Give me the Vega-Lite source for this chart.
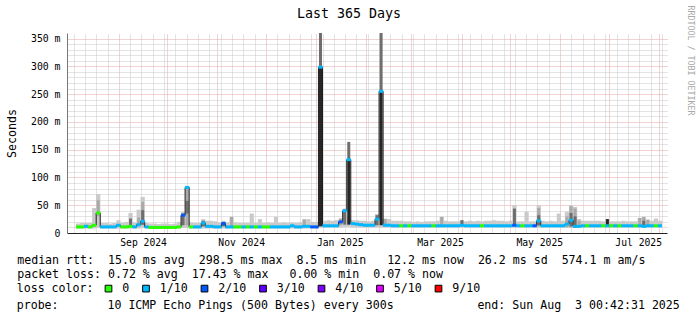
{
"$schema": "https://vega.github.io/schema/vega-lite/v6.json",
"width": 600, "height": 200,
"autosize": {"type": "none"},
"padding": {"left": 67, "top": 33, "right": 30, "bottom": 82},
"background": "#ffffff",
"config": {"view": {"stroke": null}, "font": "DejaVu Sans Mono"},
"title": {"text": "probe:\u00a0\u00a0\u00a0\u00a0\u00a0\u00a0\u00a010 ICMP Echo Pings (500 Bytes) every 300s\u00a0\u00a0\u00a0\u00a0\u00a0\u00a0\u00a0\u00a0\u00a0\u00a0\u00a0\u00a0end: Sun Aug\u00a0\u00a03 00:42:31 2025", "orient": "bottom", "anchor": "start", "frame": "group", "align": "left", "dx": -50.3, "offset": 14, "baseline": "alphabetic", "limit": 1000, "font": "DejaVu Sans Mono", "fontSize": 11.6, "fontWeight": "normal", "color": "#000000"},
"datasets": {
"main": [
{"t":"2024-08-06T18:00","m":11,"l":"0","lo":8,"hi":17},
{"t":"2024-08-09T06:00","m":11,"l":"0","lo":8,"hi":18},
{"t":"2024-08-11T18:00","m":12,"l":"1/10","lo":8,"hi":18},
{"t":"2024-08-14T06:00","m":11,"l":"0","lo":8,"hi":18},
{"t":"2024-08-16T18:00","m":14,"l":"0","lo":8,"hi":45},
{"t":"2024-08-19T06:00","m":36,"l":"0","lo":9,"hi":70},
{"t":"2024-08-21T18:00","m":11,"l":"1/10","lo":8,"hi":18},
{"t":"2024-08-24T06:00","m":11,"l":"1/10","lo":8,"hi":18},
{"t":"2024-08-26T18:00","m":11,"l":"1/10","lo":8,"hi":17},
{"t":"2024-08-29T06:00","m":11,"l":"1/10","lo":8,"hi":18},
{"t":"2024-08-31T18:00","m":14,"l":"1/10","lo":8,"hi":23},
{"t":"2024-09-03T06:00","m":11,"l":"0","lo":8,"hi":18},
{"t":"2024-09-05T18:00","m":11,"l":"0","lo":8,"hi":20},
{"t":"2024-09-08T06:00","m":12,"l":"0","lo":8,"hi":36},
{"t":"2024-09-10T18:00","m":11,"l":"1/10","lo":8,"hi":19},
{"t":"2024-09-13T06:00","m":15,"l":"1/10","lo":8,"hi":42},
{"t":"2024-09-15T18:00","m":21,"l":"1/10","lo":9,"hi":65},
{"t":"2024-09-18T06:00","m":11,"l":"1/10","lo":8,"hi":18},
{"t":"2024-09-20T18:00","m":10,"l":"0","lo":8,"hi":17},
{"t":"2024-09-23T06:00","m":10,"l":"0","lo":8,"hi":17},
{"t":"2024-09-25T18:00","m":10,"l":"0","lo":8,"hi":16},
{"t":"2024-09-28T06:00","m":10,"l":"0","lo":8,"hi":17},
{"t":"2024-09-30T18:00","m":10,"l":"0","lo":8,"hi":17},
{"t":"2024-10-03T06:00","m":10,"l":"0","lo":8,"hi":16},
{"t":"2024-10-05T18:00","m":10,"l":"0","lo":8,"hi":17},
{"t":"2024-10-08T06:00","m":11,"l":"0","lo":8,"hi":20},
{"t":"2024-10-10T18:00","m":32,"l":"2/10","lo":9,"hi":38},
{"t":"2024-10-13T06:00","m":82,"l":"1/10","lo":9,"hi":84},
{"t":"2024-10-15T18:00","m":11,"l":"0","lo":8,"hi":19},
{"t":"2024-10-18T06:00","m":11,"l":"1/10","lo":8,"hi":18},
{"t":"2024-10-20T18:00","m":11,"l":"1/10","lo":8,"hi":18},
{"t":"2024-10-23T06:00","m":18,"l":"1/10","lo":8,"hi":25},
{"t":"2024-10-25T18:00","m":12,"l":"1/10","lo":8,"hi":22},
{"t":"2024-10-28T06:00","m":12,"l":"1/10","lo":8,"hi":22},
{"t":"2024-10-30T18:00","m":11,"l":"1/10","lo":8,"hi":21},
{"t":"2024-11-02T06:00","m":11,"l":"1/10","lo":8,"hi":19},
{"t":"2024-11-04T18:00","m":17,"l":"2/10","lo":8,"hi":22},
{"t":"2024-11-07T06:00","m":11,"l":"1/10","lo":8,"hi":19},
{"t":"2024-11-09T18:00","m":11,"l":"1/10","lo":8,"hi":29},
{"t":"2024-11-12T06:00","m":11,"l":"0","lo":8,"hi":19},
{"t":"2024-11-14T18:00","m":11,"l":"0","lo":8,"hi":18},
{"t":"2024-11-17T06:00","m":11,"l":"1/10","lo":8,"hi":18},
{"t":"2024-11-19T18:00","m":11,"l":"0","lo":8,"hi":18},
{"t":"2024-11-22T06:00","m":11,"l":"1/10","lo":8,"hi":35},
{"t":"2024-11-24T18:00","m":11,"l":"0","lo":8,"hi":18},
{"t":"2024-11-27T06:00","m":11,"l":"1/10","lo":8,"hi":25},
{"t":"2024-11-29T18:00","m":11,"l":"0","lo":8,"hi":18},
{"t":"2024-12-02T06:00","m":11,"l":"0","lo":8,"hi":19},
{"t":"2024-12-04T18:00","m":11,"l":"1/10","lo":8,"hi":18},
{"t":"2024-12-07T06:00","m":11,"l":"1/10","lo":8,"hi":29},
{"t":"2024-12-09T18:00","m":11,"l":"1/10","lo":8,"hi":18},
{"t":"2024-12-12T06:00","m":11,"l":"1/10","lo":8,"hi":19},
{"t":"2024-12-14T18:00","m":11,"l":"1/10","lo":8,"hi":18},
{"t":"2024-12-17T06:00","m":13,"l":"1/10","lo":8,"hi":19},
{"t":"2024-12-19T18:00","m":11,"l":"1/10","lo":8,"hi":18},
{"t":"2024-12-22T06:00","m":11,"l":"1/10","lo":8,"hi":19},
{"t":"2024-12-24T18:00","m":12,"l":"1/10","lo":8,"hi":25},
{"t":"2024-12-27T06:00","m":12,"l":"1/10","lo":8,"hi":25},
{"t":"2024-12-29T18:00","m":11,"l":"2/10","lo":8,"hi":20},
{"t":"2025-01-01T06:00","m":11,"l":"2/10","lo":8,"hi":20},
{"t":"2025-01-03T18:00","m":298.5,"l":"1/10","lo":10,"hi":25},
{"t":"2025-01-06T06:00","m":13,"l":"1/10","lo":10,"hi":22},
{"t":"2025-01-08T18:00","m":13,"l":"1/10","lo":10,"hi":23},
{"t":"2025-01-11T06:00","m":13,"l":"1/10","lo":10,"hi":22},
{"t":"2025-01-13T18:00","m":13,"l":"1/10","lo":10,"hi":23},
{"t":"2025-01-16T06:00","m":20,"l":"2/10","lo":10,"hi":26},
{"t":"2025-01-18T18:00","m":40,"l":"1/10","lo":11,"hi":44},
{"t":"2025-01-21T06:00","m":132,"l":"1/10","lo":11,"hi":30},
{"t":"2025-01-23T18:00","m":17,"l":"1/10","lo":10,"hi":23},
{"t":"2025-01-26T06:00","m":16,"l":"1/10","lo":10,"hi":23},
{"t":"2025-01-28T18:00","m":15,"l":"1/10","lo":10,"hi":22},
{"t":"2025-01-31T06:00","m":14,"l":"1/10","lo":10,"hi":22},
{"t":"2025-02-02T18:00","m":14,"l":"1/10","lo":10,"hi":21},
{"t":"2025-02-05T06:00","m":14,"l":"1/10","lo":10,"hi":22},
{"t":"2025-02-07T18:00","m":25,"l":"1/10","lo":10,"hi":34},
{"t":"2025-02-10T06:00","m":255,"l":"1/10","lo":10,"hi":25},
{"t":"2025-02-12T18:00","m":14,"l":"1/10","lo":10,"hi":26},
{"t":"2025-02-15T06:00","m":14,"l":"1/10","lo":10,"hi":25},
{"t":"2025-02-17T18:00","m":13,"l":"1/10","lo":10,"hi":22},
{"t":"2025-02-20T06:00","m":13,"l":"1/10","lo":10,"hi":22},
{"t":"2025-02-22T18:00","m":13,"l":"0","lo":10,"hi":22},
{"t":"2025-02-25T06:00","m":13,"l":"1/10","lo":10,"hi":21},
{"t":"2025-02-27T18:00","m":13,"l":"0","lo":10,"hi":21},
{"t":"2025-03-02T06:00","m":13,"l":"1/10","lo":10,"hi":20},
{"t":"2025-03-04T18:00","m":13,"l":"1/10","lo":10,"hi":21},
{"t":"2025-03-07T06:00","m":13,"l":"1/10","lo":10,"hi":20},
{"t":"2025-03-09T18:00","m":13,"l":"1/10","lo":10,"hi":21},
{"t":"2025-03-12T06:00","m":13,"l":"1/10","lo":10,"hi":21},
{"t":"2025-03-14T18:00","m":13,"l":"0","lo":10,"hi":21},
{"t":"2025-03-17T06:00","m":13,"l":"1/10","lo":10,"hi":22},
{"t":"2025-03-19T18:00","m":13,"l":"1/10","lo":10,"hi":29},
{"t":"2025-03-22T06:00","m":13,"l":"1/10","lo":10,"hi":22},
{"t":"2025-03-24T18:00","m":13,"l":"1/10","lo":10,"hi":21},
{"t":"2025-03-27T06:00","m":13,"l":"1/10","lo":10,"hi":21},
{"t":"2025-03-29T18:00","m":13,"l":"1/10","lo":10,"hi":21},
{"t":"2025-04-01T06:00","m":14,"l":"1/10","lo":10,"hi":23},
{"t":"2025-04-03T18:00","m":13,"l":"1/10","lo":10,"hi":21},
{"t":"2025-04-06T06:00","m":13,"l":"1/10","lo":10,"hi":22},
{"t":"2025-04-08T18:00","m":13,"l":"1/10","lo":10,"hi":21},
{"t":"2025-04-11T06:00","m":13,"l":"1/10","lo":10,"hi":22},
{"t":"2025-04-13T18:00","m":13,"l":"0","lo":10,"hi":21},
{"t":"2025-04-16T06:00","m":13,"l":"1/10","lo":10,"hi":22},
{"t":"2025-04-18T18:00","m":13,"l":"1/10","lo":10,"hi":22},
{"t":"2025-04-21T06:00","m":13,"l":"1/10","lo":10,"hi":23},
{"t":"2025-04-23T18:00","m":13,"l":"1/10","lo":10,"hi":22},
{"t":"2025-04-26T06:00","m":13,"l":"1/10","lo":10,"hi":22},
{"t":"2025-04-28T18:00","m":13,"l":"1/10","lo":10,"hi":21},
{"t":"2025-05-01T06:00","m":13,"l":"1/10","lo":10,"hi":22},
{"t":"2025-05-03T18:00","m":14,"l":"2/10","lo":10,"hi":50},
{"t":"2025-05-06T06:00","m":13,"l":"1/10","lo":10,"hi":21},
{"t":"2025-05-08T18:00","m":13,"l":"0","lo":10,"hi":21},
{"t":"2025-05-11T06:00","m":13,"l":"1/10","lo":10,"hi":38},
{"t":"2025-05-13T18:00","m":13,"l":"1/10","lo":10,"hi":21},
{"t":"2025-05-16T06:00","m":13,"l":"2/10","lo":10,"hi":21},
{"t":"2025-05-18T18:00","m":22,"l":"1/10","lo":10,"hi":50},
{"t":"2025-05-21T06:00","m":13,"l":"1/10","lo":10,"hi":22},
{"t":"2025-05-23T18:00","m":13,"l":"1/10","lo":10,"hi":21},
{"t":"2025-05-26T06:00","m":13,"l":"1/10","lo":10,"hi":22},
{"t":"2025-05-28T18:00","m":13,"l":"1/10","lo":10,"hi":21},
{"t":"2025-05-31T06:00","m":13,"l":"1/10","lo":10,"hi":35},
{"t":"2025-06-02T18:00","m":13,"l":"1/10","lo":10,"hi":22},
{"t":"2025-06-05T06:00","m":16,"l":"1/10","lo":10,"hi":38},
{"t":"2025-06-07T18:00","m":23,"l":"1/10","lo":10,"hi":50},
{"t":"2025-06-10T06:00","m":12,"l":"1/10","lo":9,"hi":47},
{"t":"2025-06-12T18:00","m":12,"l":"1/10","lo":10,"hi":25},
{"t":"2025-06-15T06:00","m":13,"l":"1/10","lo":10,"hi":22},
{"t":"2025-06-17T18:00","m":13,"l":"0","lo":10,"hi":22},
{"t":"2025-06-20T06:00","m":13,"l":"1/10","lo":10,"hi":22},
{"t":"2025-06-22T18:00","m":13,"l":"1/10","lo":10,"hi":22},
{"t":"2025-06-25T06:00","m":13,"l":"1/10","lo":10,"hi":22},
{"t":"2025-06-27T18:00","m":13,"l":"0","lo":10,"hi":21},
{"t":"2025-06-30T06:00","m":13,"l":"1/10","lo":10,"hi":25},
{"t":"2025-07-02T18:00","m":13,"l":"0","lo":10,"hi":21},
{"t":"2025-07-05T06:00","m":13,"l":"1/10","lo":10,"hi":21},
{"t":"2025-07-07T18:00","m":13,"l":"0","lo":10,"hi":21},
{"t":"2025-07-10T06:00","m":13,"l":"1/10","lo":10,"hi":22},
{"t":"2025-07-12T18:00","m":13,"l":"1/10","lo":10,"hi":21},
{"t":"2025-07-15T06:00","m":13,"l":"1/10","lo":10,"hi":21},
{"t":"2025-07-17T18:00","m":13,"l":"0","lo":10,"hi":21},
{"t":"2025-07-20T06:00","m":13,"l":"1/10","lo":10,"hi":27},
{"t":"2025-07-22T18:00","m":12,"l":"1/10","lo":10,"hi":29},
{"t":"2025-07-25T06:00","m":13,"l":"1/10","lo":10,"hi":24},
{"t":"2025-07-27T18:00","m":13,"l":"1/10","lo":10,"hi":22},
{"t":"2025-07-30T06:00","m":13,"l":"0","lo":10,"hi":26},
{"t":"2025-08-01T18:00","m":13,"l":"1/10","lo":10,"hi":22}
],
"dark": [
{"t":"2024-08-19T06:00","lo":30,"hi":59,"k":1},
{"t":"2024-09-08T06:00","lo":12,"hi":26,"k":2},
{"t":"2024-09-13T06:00","lo":12,"hi":28,"k":1},
{"t":"2024-09-15T18:00","lo":14,"hi":56,"k":1},
{"t":"2024-09-15T18:00","lo":15,"hi":41,"k":2},
{"t":"2024-10-10T18:00","lo":14,"hi":35,"k":2},
{"t":"2024-10-13T06:00","lo":14,"hi":80,"k":1},
{"t":"2024-10-13T06:00","lo":35,"hi":58,"k":2},
{"t":"2024-10-23T06:00","lo":12,"hi":22,"k":2},
{"t":"2024-11-04T18:00","lo":12,"hi":20,"k":2},
{"t":"2024-11-09T18:00","lo":12,"hi":29,"k":1},
{"t":"2024-12-24T18:00","lo":12,"hi":24,"k":1},
{"t":"2025-01-03T18:00","lo":12,"hi":298.5,"k":3},
{"t":"2025-01-03T18:00","lo":298.5,"hi":360,"k":2},
{"t":"2025-01-16T06:00","lo":14,"hi":26,"k":1},
{"t":"2025-01-18T18:00","lo":15,"hi":42,"k":2},
{"t":"2025-01-21T06:00","lo":15,"hi":132,"k":3},
{"t":"2025-01-21T06:00","lo":132,"hi":164,"k":2},
{"t":"2025-02-07T18:00","lo":14,"hi":32,"k":2},
{"t":"2025-02-10T06:00","lo":14,"hi":255,"k":3},
{"t":"2025-02-10T06:00","lo":255,"hi":360,"k":2},
{"t":"2025-02-12T18:00","lo":12,"hi":25,"k":1},
{"t":"2025-03-19T18:00","lo":12,"hi":29,"k":1},
{"t":"2025-04-01T06:00","lo":12,"hi":23,"k":2},
{"t":"2025-05-03T18:00","lo":12,"hi":44,"k":2},
{"t":"2025-05-18T18:00","lo":12,"hi":45,"k":1},
{"t":"2025-05-18T18:00","lo":14,"hi":32,"k":2},
{"t":"2025-06-05T06:00","lo":10,"hi":30,"k":1},
{"t":"2025-06-07T18:00","lo":10,"hi":48,"k":1},
{"t":"2025-06-07T18:00","lo":12,"hi":36,"k":2},
{"t":"2025-06-10T06:00","lo":9,"hi":44,"k":1},
{"t":"2025-06-10T06:00","lo":10,"hi":30,"k":2},
{"t":"2025-06-12T18:00","lo":10,"hi":22,"k":1},
{"t":"2025-06-30T06:00","lo":12,"hi":25,"k":3},
{"t":"2025-07-20T06:00","lo":11,"hi":27,"k":1},
{"t":"2025-07-22T18:00","lo":10,"hi":29,"k":1},
{"t":"2025-07-22T18:00","lo":11,"hi":22,"k":2},
{"t":"2025-07-25T06:00","lo":11,"hi":24,"k":1}
]
},
"layer": [
{
"data": {"name": "main"},
"mark": {"type": "bar", "width": 4.2, "color": "#cacaca"},
"encoding": {
"x": {"field": "t", "type": "temporal", "scale": {"domain": [{"year":2024,"month":8,"date":3,"hours":0,"minutes":42},{"year":2025,"month":8,"date":3,"hours":0,"minutes":42}], "nice": false},
"axis": {"orient": "top", "values": [{"year":2024,"month":8,"date":4},{"year":2024,"month":8,"date":11},{"year":2024,"month":8,"date":18},{"year":2024,"month":8,"date":25},{"year":2024,"month":9,"date":1},{"year":2024,"month":9,"date":8},{"year":2024,"month":9,"date":15},{"year":2024,"month":9,"date":22},{"year":2024,"month":9,"date":29},{"year":2024,"month":10,"date":1},{"year":2024,"month":10,"date":6},{"year":2024,"month":10,"date":13},{"year":2024,"month":10,"date":20},{"year":2024,"month":10,"date":27},{"year":2024,"month":11,"date":1},{"year":2024,"month":11,"date":3},{"year":2024,"month":11,"date":10},{"year":2024,"month":11,"date":17},{"year":2024,"month":11,"date":24},{"year":2024,"month":12,"date":1},{"year":2024,"month":12,"date":8},{"year":2024,"month":12,"date":15},{"year":2024,"month":12,"date":22},{"year":2024,"month":12,"date":29},{"year":2025,"month":1,"date":1},{"year":2025,"month":1,"date":5},{"year":2025,"month":1,"date":12},{"year":2025,"month":1,"date":19},{"year":2025,"month":1,"date":26},{"year":2025,"month":2,"date":1},{"year":2025,"month":2,"date":2},{"year":2025,"month":2,"date":9},{"year":2025,"month":2,"date":16},{"year":2025,"month":2,"date":23},{"year":2025,"month":3,"date":1},{"year":2025,"month":3,"date":2},{"year":2025,"month":3,"date":9},{"year":2025,"month":3,"date":16},{"year":2025,"month":3,"date":23},{"year":2025,"month":3,"date":30},{"year":2025,"month":4,"date":1},{"year":2025,"month":4,"date":6},{"year":2025,"month":4,"date":13},{"year":2025,"month":4,"date":20},{"year":2025,"month":4,"date":27},{"year":2025,"month":5,"date":1},{"year":2025,"month":5,"date":4},{"year":2025,"month":5,"date":11},{"year":2025,"month":5,"date":18},{"year":2025,"month":5,"date":25},{"year":2025,"month":6,"date":1},{"year":2025,"month":6,"date":8},{"year":2025,"month":6,"date":15},{"year":2025,"month":6,"date":22},{"year":2025,"month":6,"date":29},{"year":2025,"month":7,"date":1},{"year":2025,"month":7,"date":6},{"year":2025,"month":7,"date":13},{"year":2025,"month":7,"date":20},{"year":2025,"month":7,"date":27},{"year":2025,"month":8,"date":1},{"year":2025,"month":8,"date":3}],
"grid": true, "gridColor": {"condition": {"test": "date(datum.value) == 1", "value": "#e2a6a6"}, "value": "#c8c8c8"}, "gridDash": [1, 1], "labels": false, "ticks": false, "domain": false,
"title": "Last 365 Days", "titleFont": "DejaVu Sans Mono", "titleFontSize": 13.3, "titleFontWeight": "normal", "titleColor": "#000000", "titleX": 281.5, "titleY": -15.5, "titleAlign": "center", "titleBaseline": "alphabetic", "titleAngle": 0, "titleLimit": 1000}},
"y": {"field": "lo", "type": "quantitative", "scale": {"domain": [0, 360], "nice": false},
"axis": {"orient": "right", "values": [10,20,30,40,50,60,70,80,90,100,110,120,130,140,150,160,170,180,190,200,210,220,230,240,250,260,270,280,290,300,310,320,330,340,350], "grid": true, "gridColor": {"condition": {"test": "datum.value % 50 == 0", "value": "#e2a6a6"}, "value": "#c8c8c8"}, "gridDash": [1, 1], "labels": false, "ticks": false, "domain": false,
"title": "RRDTOOL / TOBI OETIKER", "titleFont": "DejaVu Sans Mono", "titleFontSize": 8.3, "titleFontWeight": "normal", "titleColor": "#a8a8a8", "titleAngle": 90, "titleX": 22, "titleY": 27, "titleAlign": "center", "titleBaseline": "middle"}},
"y2": {"field": "hi"}
}
},
{
"data": {"name": "dark"},
"mark": {"type": "bar", "width": 3},
"encoding": {
"x": {"field": "t", "type": "temporal", "scale": {"domain": [{"year":2024,"month":8,"date":3,"hours":0,"minutes":42},{"year":2025,"month":8,"date":3,"hours":0,"minutes":42}], "nice": false}, "axis": null},
"y": {"field": "lo", "type": "quantitative", "scale": {"domain": [0, 360], "nice": false}, "axis": null},
"y2": {"field": "hi"},
"fill": {"field": "k", "type": "ordinal", "scale": {"domain": [1, 2, 3], "range": ["#a9a9a9", "#6e6e6e", "#262626"]}, "legend": null}
}
},
{
"data": {"name": "main"},
"mark": {"type": "line", "interpolate": "step", "color": "#1e1e1e", "strokeWidth": 1},
"encoding": {
"x": {"field": "t", "type": "temporal", "scale": {"domain": [{"year":2024,"month":8,"date":3,"hours":0,"minutes":42},{"year":2025,"month":8,"date":3,"hours":0,"minutes":42}], "nice": false}, "axis": null},
"y": {"field": "m", "type": "quantitative", "scale": {"domain": [0, 360], "nice": false}, "axis": null}
}
},
{
"data": {"name": "main"},
"mark": {"type": "tick", "orient": "horizontal", "thickness": 3, "size": 4.2, "opacity": 1},
"encoding": {
"x": {"field": "t", "type": "temporal", "scale": {"domain": [{"year":2024,"month":8,"date":3,"hours":0,"minutes":42},{"year":2025,"month":8,"date":3,"hours":0,"minutes":42}], "nice": false},
"axis": {"orient": "bottom", "values": [{"year":2024,"month":9,"date":16},{"year":2024,"month":11,"date":15,"hours":16},{"year":2025,"month":1,"date":15,"hours":16,"minutes":20},{"year":2025,"month":3,"date":18,"hours":16},{"year":2025,"month":5,"date":19,"hours":2},{"year":2025,"month":7,"date":19,"hours":6,"minutes":20}],
"format": "%b %Y", "grid": false, "ticks": false, "tickSize": 0, "labelPadding": 4.7, "labelOverlap": false, "labelFlush": false, "labelBound": false,
"labelFont": "DejaVu Sans Mono", "labelFontSize": 9.7, "labelColor": "#000000", "domainColor": "#222222", "domainWidth": 1,
"title": ["median rtt:\u00a0\u00a015.0 ms avg\u00a0\u00a0298.5 ms max\u00a0\u00a08.5 ms min\u00a0\u00a0\u00a012.2 ms now\u00a0\u00a026.2 ms sd\u00a0\u00a0574.1 m am/s", "packet loss: 0.72 % avg\u00a0\u00a017.43 % max\u00a0\u00a0\u00a00.00 % min\u00a0\u00a00.07 % now"],
"titleFont": "DejaVu Sans Mono", "titleFontSize": 11.6, "titleFontWeight": "normal", "titleColor": "#000000", "titleAnchor": "start", "titleAlign": "left", "titleBaseline": "alphabetic", "titleX": -50.3, "titleY": 30.3, "titleLineHeight": 13.9, "titleLimit": 1000}},
"y": {"field": "m", "type": "quantitative", "scale": {"domain": [0, 360], "nice": false},
"axis": {"orient": "left", "values": [0, 50, 100, 150, 200, 250, 300, 350], "grid": false, "ticks": false, "tickSize": 0, "labelPadding": 7,
"labelExpr": "datum.value == 0 ? '0\u00a0\u00a0' : datum.value + ' m'", "labelFont": "DejaVu Sans Mono", "labelFontSize": 9.8, "labelColor": "#000000", "domainColor": "#777777", "domainWidth": 1,
"title": "Seconds", "titleFont": "DejaVu Sans Mono", "titleFontSize": 11.6, "titleFontWeight": "normal", "titleColor": "#000000", "titleAngle": -90, "titleX": -52, "titleY": 100, "titleAlign": "center", "titleBaseline": "alphabetic"}},
"color": {"field": "l", "type": "nominal", "scale": {"domain": ["0", "1/10", "2/10", "3/10", "4/10", "5/10", "9/10"], "range": ["#26ff00", "#00b8ff", "#0059ff", "#5e00ff", "#7e00ff", "#dd00ff", "#ff0000"]},
"legend": {"orient": "none", "legendX": -50.3, "legendY": 249.5, "direction": "horizontal", "title": "loss color:", "titleOrient": "left", "titlePadding": 9, "titleFont": "DejaVu Sans Mono", "titleFontSize": 11.6, "titleFontWeight": "normal", "titleColor": "#000000", "titleBaseline": "middle",
"labelFont": "DejaVu Sans Mono", "labelFontSize": 11.6, "labelColor": "#000000", "labelOffset": 8, "columnPadding": 10.5, "symbolType": "square", "symbolSize": 45, "symbolStrokeWidth": 1, "symbolStrokeColor": "#000000", "symbolOpacity": 1,
"encode": {"symbols": {"update": {"fill": {"scale": "color", "field": "value"}, "stroke": {"value": "#000000"}, "strokeWidth": {"value": 1}, "opacity": {"value": 1}, "shape": {"value": "square"}}}}}}
}
}
]
}
